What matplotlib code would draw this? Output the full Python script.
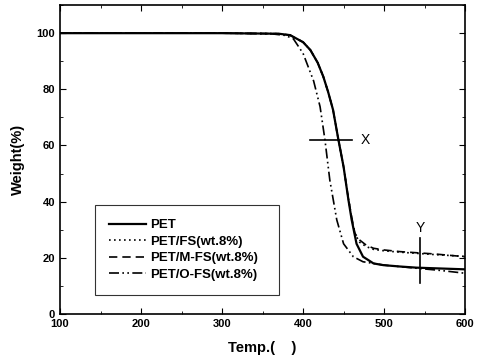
import matplotlib
matplotlib.use("Agg")
import matplotlib.pyplot as plt
from matplotlib.ticker import MultipleLocator

plt.rcParams["font.family"] = ["Liberation Sans", "DejaVu Sans"]
plt.rcParams["font.weight"] = "bold"

# data
t_pet = [100, 300, 370, 384, 400, 409, 418, 425, 431, 437, 443, 450, 456, 460, 466, 474, 487, 499, 520, 540, 570, 600]
w_pet = [100, 100, 99.8, 99.3, 96.8, 94, 89.5, 84.5, 79, 72.7, 63, 52.4, 40.6, 33.5, 25, 20.4, 18, 17.4, 16.9, 16.5, 16.2, 15.9]

t_fs = [100, 300, 370, 384, 400, 409, 418, 425, 431, 437, 443, 450, 456, 460, 464, 470, 478, 487, 500, 520, 560, 600]
w_fs = [100, 100, 99.8, 99.3, 96.8, 94, 89.5, 84.5, 79, 72.7, 63, 52.4, 41, 34, 28.5, 25.5, 24, 23, 22.5, 22, 21.2, 20.5]

t_mfs = [100, 300, 370, 384, 400, 409, 418, 425, 431, 437, 443, 450, 456, 460, 464, 470, 478, 487, 500, 520, 561, 600]
w_mfs = [100, 100, 99.8, 99.3, 96.8, 94, 89.5, 84.5, 79, 72.7, 63, 52.4, 41, 34.5, 28.7, 26.3, 24.5, 23.4, 22.8, 22.2, 21.4, 20.4]

t_ofs = [100, 300, 360, 378, 388, 400, 413, 421, 427, 433, 441.6, 450, 462, 474, 500, 540, 570, 600]
w_ofs = [100, 100, 99.8, 99.2, 98, 92.8, 83, 73.8, 62, 47.7, 33.5, 25, 20.4, 18.6, 17.4, 16.3, 15.5, 14.5]

labels = ["PET", "PET/FS(wt.8%)", "PET/M-FS(wt.8%)", "PET/O-FS(wt.8%)"]

fig = plt.figure(figsize=(4.8, 3.63), dpi=100)
ax = fig.add_axes([0.125, 0.135, 0.844, 0.851])

ax.plot(t_pet, w_pet, color="black", lw=1.6, label=labels[0])
ax.plot(t_fs, w_fs, color="black", lw=1.2, dashes=(1, 2), label=labels[1])
ax.plot(t_mfs, w_mfs, color="black", lw=1.2, dashes=(5, 3), label=labels[2])
ax.plot(t_ofs, w_ofs, color="black", lw=1.2, dashes=(6, 2, 1, 2, 1, 2), label=labels[3])

# X and Y markers
ax.plot([409, 460], [62, 62], color="black", lw=1.2)
ax.text(471, 62, "X", fontsize=10, fontweight="normal", va="center")
ax.plot([544.5, 544.5], [11, 27], color="black", lw=1.2)
ax.text(544.5, 28.3, "Y", fontsize=10, fontweight="normal", ha="center", va="bottom")

ax.set_xlim(100, 600)
ax.set_ylim(0, 110)
ax.set_yticks([0, 20, 40, 60, 80, 100])
ax.xaxis.set_minor_locator(MultipleLocator(50))
ax.yaxis.set_minor_locator(MultipleLocator(10))
ax.tick_params(which="both", direction="in", right=True, top=True, labelsize=8)
ax.tick_params(which="major", length=4)
ax.tick_params(which="minor", length=2)
for s in ax.spines.values():
    s.set_linewidth(1.2)

ax.set_xlabel("Temp.(    )", fontsize=10.5, fontweight="bold", labelpad=9)
ax.set_ylabel("Weight(%)", fontsize=10.5, fontweight="bold", labelpad=8)

leg = ax.legend(loc="lower left", bbox_to_anchor=(0.086, 0.061, 0.454, 0.278), mode="expand",
                fontsize=9.5, frameon=True, fancybox=False, edgecolor="black",
                handlelength=2.8, handletextpad=0.3, borderpad=1.1, borderaxespad=0,
                labelspacing=0.32)
leg.get_frame().set_linewidth(0.8)

fig.savefig("out.png", dpi=100)
